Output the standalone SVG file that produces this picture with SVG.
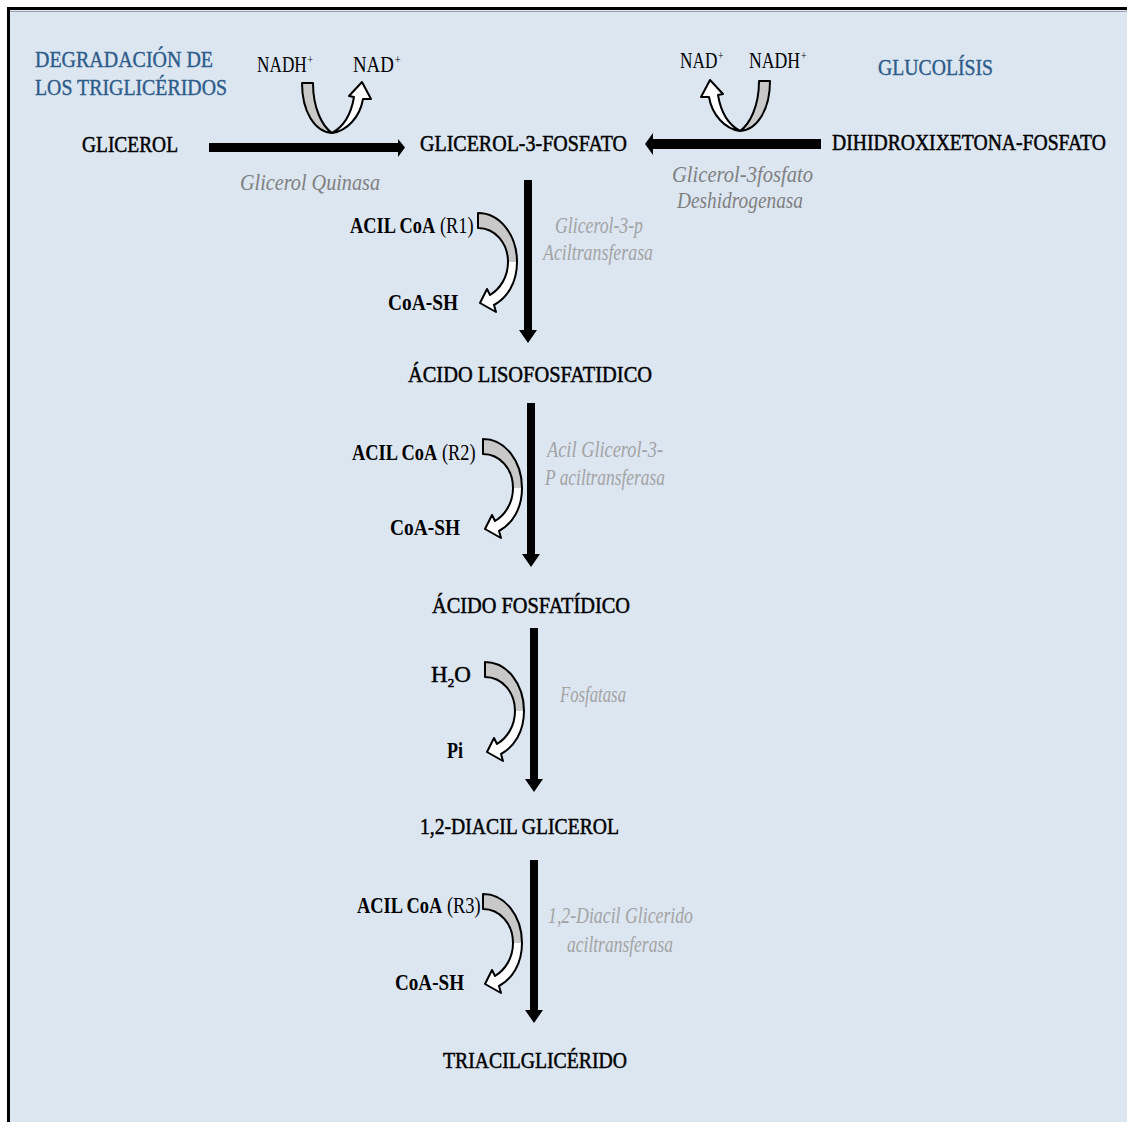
<svg xmlns="http://www.w3.org/2000/svg" width="1127" height="1122" viewBox="0 0 1127 1122">
<style>
text{font-family:"Liberation Serif","Times New Roman",serif;font-size:23px;fill:#000}
.m{stroke:#000;stroke-width:0.5}
.b{font-weight:bold}
.sup{font-size:13px}
.t{fill:#2e5c8a;stroke:#2e5c8a;stroke-width:0.4}
.e1{font-style:italic;fill:#808080}
.e2{font-style:italic;fill:#a3a3a3}
.gf{fill:#c8c8c8}
.wf{fill:#fff}
.o{fill:none;stroke:#000;stroke-width:2;stroke-linejoin:round}
.g{fill:#c8c8c8;stroke:#000;stroke-width:2;stroke-linejoin:round}
.w{fill:#fff;stroke:#000;stroke-width:2;stroke-linejoin:round}
.k{fill:#000}
</style>
<defs>
<g id="curved">
<path class="wf" d="M39,49 C39,70 29,85 16,92 L18,99 L2,90 L9,76 L12,82 C22,76 30,64 30,49 Z"/>
<path class="gf" d="M0,0 C22,0 39,22 39,49 L30,49 C30,30 17,15 0,15 Z"/>
<path class="o" d="M0,0 C22,0 39,22 39,49 C39,70 29,85 16,92 L18,99 L2,90 L9,76 L12,82 C22,76 30,64 30,49 C30,30 17,15 0,15 Z"/>
</g>
<g id="uturn">
<path class="w" d="M332,133 C347,131 360,117 363,99 L371,99 L362,82 L349,96 L354,97 C351,115 343,127 332,133 Z"/>
<path class="g" d="M302,83 L313,83 C313,108 322,126 332,133 C315,132 302,112 302,83 Z"/>
</g>
</defs>
<rect x="0" y="0" width="1127" height="1122" fill="#fff"/>
<rect x="9" y="9" width="1118" height="1113" fill="#dce6f1"/>
<path d="M10,11.5 H1127" stroke="#9aa3ad" stroke-width="1"/>
<path d="M8.5,1122 V8.5 H1127" fill="none" stroke="#000" stroke-width="3"/>

<g id="connectors">
<path class="k" d="M209,143 H398 V139 L405,147.5 L398,157 V152 H209 Z"/>
<path class="k" d="M821,139 H653 V133 L645,144 L653,155 V149 H821 Z"/>
<path class="k" d="M524,180 H532 V330 H537 L528,343 L519,330 H524 Z"/>
<path class="k" d="M527,403 H535 V554 H540 L531,567 L522,554 H527 Z"/>
<path class="k" d="M530,628 H538 V779 H543 L534,792 L525,779 H530 Z"/>
<path class="k" d="M530,860 H538 V1010 H543 L534,1023 L525,1010 H530 Z"/>
<use href="#uturn"/>
<use href="#uturn" transform="translate(1072,-2) scale(-1,1)"/>
<use href="#curved" transform="translate(478,213)"/>
<use href="#curved" transform="translate(483,439)"/>
<use href="#curved" transform="translate(485,662)"/>
<use href="#curved" transform="translate(483,894)"/>
</g>

<g id="title-degradacion">
<text class="t" x="35" y="67" textLength="178" lengthAdjust="spacingAndGlyphs">DEGRADACIÓN DE</text>
<text class="t" x="35" y="95" textLength="192" lengthAdjust="spacingAndGlyphs">LOS TRIGLICÉRIDOS</text>
</g>
<g id="title-glucolisis">
<text class="t" x="878" y="75" textLength="115" lengthAdjust="spacingAndGlyphs">GLUCOLÍSIS</text>
</g>

<g id="nadh-left">
<text transform="translate(257,72) scale(0.75,1)">NADH<tspan class="sup" dx="1" dy="-8">+</tspan></text>
<text transform="translate(353,72) scale(0.82,1)">NAD<tspan class="sup" dx="1" dy="-8">+</tspan></text>
</g>
<g id="nadh-right">
<text transform="translate(680,68) scale(0.75,1)">NAD<tspan class="sup" dx="1" dy="-8">+</tspan></text>
<text transform="translate(749,68) scale(0.77,1)">NADH<tspan class="sup" dx="1" dy="-8">+</tspan></text>
</g>

<g id="glicerol"><text class="m" x="82" y="152" textLength="96" lengthAdjust="spacingAndGlyphs">GLICEROL</text></g>
<g id="glicerol-3-fosfato"><text class="m" x="420" y="151" textLength="207" lengthAdjust="spacingAndGlyphs">GLICEROL-3-FOSFATO</text></g>
<g id="dihidroxixetona"><text class="m" transform="scale(0.855,1)" x="973.1" y="150">DIHIDROXIXETONA-FOSFATO</text></g>

<g id="enz-quinasa"><text class="e1" x="240" y="190" textLength="140" lengthAdjust="spacingAndGlyphs">Glicerol Quinasa</text></g>
<g id="enz-deshidrogenasa">
<text class="e1" x="672" y="182" textLength="141" lengthAdjust="spacingAndGlyphs">Glicerol-3fosfato</text>
<text class="e1" x="677" y="208" textLength="126" lengthAdjust="spacingAndGlyphs">Deshidrogenasa</text>
</g>

<g id="acil-r1">
<text transform="translate(350,233) scale(0.8,1)"><tspan class="b">ACIL CoA</tspan><tspan> (R1)</tspan></text>
<text class="b" x="388" y="310" textLength="70" lengthAdjust="spacingAndGlyphs">CoA-SH</text>
</g>
<g id="enz-r1">
<text class="e2" x="555" y="233" textLength="88" lengthAdjust="spacingAndGlyphs">Glicerol-3-p</text>
<text class="e2" x="543" y="260" textLength="110" lengthAdjust="spacingAndGlyphs">Aciltransferasa</text>
</g>
<g id="lisofosfatidico"><text class="m" x="408" y="382" textLength="244" lengthAdjust="spacingAndGlyphs">ÁCIDO LISOFOSFATIDICO</text></g>

<g id="acil-r2">
<text transform="translate(352,460) scale(0.8,1)"><tspan class="b">ACIL CoA</tspan><tspan> (R2)</tspan></text>
<text class="b" x="390" y="535" textLength="70" lengthAdjust="spacingAndGlyphs">CoA-SH</text>
</g>
<g id="enz-r2">
<text class="e2" x="547" y="457" textLength="116" lengthAdjust="spacingAndGlyphs">Acil Glicerol-3-</text>
<text class="e2" x="545" y="485" textLength="120" lengthAdjust="spacingAndGlyphs">P aciltransferasa</text>
</g>
<g id="fosfatidico"><text class="m" x="432" y="613" textLength="198" lengthAdjust="spacingAndGlyphs">ÁCIDO FOSFATÍDICO</text></g>

<g id="agua">
<text class="m" x="431" y="682">H<tspan font-size="13" dy="5">2</tspan><tspan dy="-5">O</tspan></text>
<text class="b" x="447" y="758" textLength="16" lengthAdjust="spacingAndGlyphs">Pi</text>
</g>
<g id="enz-fosfatasa"><text class="e2" x="560" y="702" textLength="66" lengthAdjust="spacingAndGlyphs">Fosfatasa</text></g>
<g id="diacilglicerol"><text class="m" x="420" y="834" textLength="199" lengthAdjust="spacingAndGlyphs">1,2-DIACIL GLICEROL</text></g>

<g id="acil-r3">
<text transform="translate(357,913) scale(0.8,1)"><tspan class="b">ACIL CoA</tspan><tspan> (R3)</tspan></text>
<text class="b" x="395" y="990" textLength="69" lengthAdjust="spacingAndGlyphs">CoA-SH</text>
</g>
<g id="enz-r3">
<text class="e2" x="548" y="923" textLength="145" lengthAdjust="spacingAndGlyphs">1,2-Diacil Glicerido</text>
<text class="e2" x="567" y="952" textLength="106" lengthAdjust="spacingAndGlyphs">aciltransferasa</text>
</g>
<g id="triacilglicerido"><text class="m" x="443" y="1068" textLength="184" lengthAdjust="spacingAndGlyphs">TRIACILGLICÉRIDO</text></g>
</svg>
